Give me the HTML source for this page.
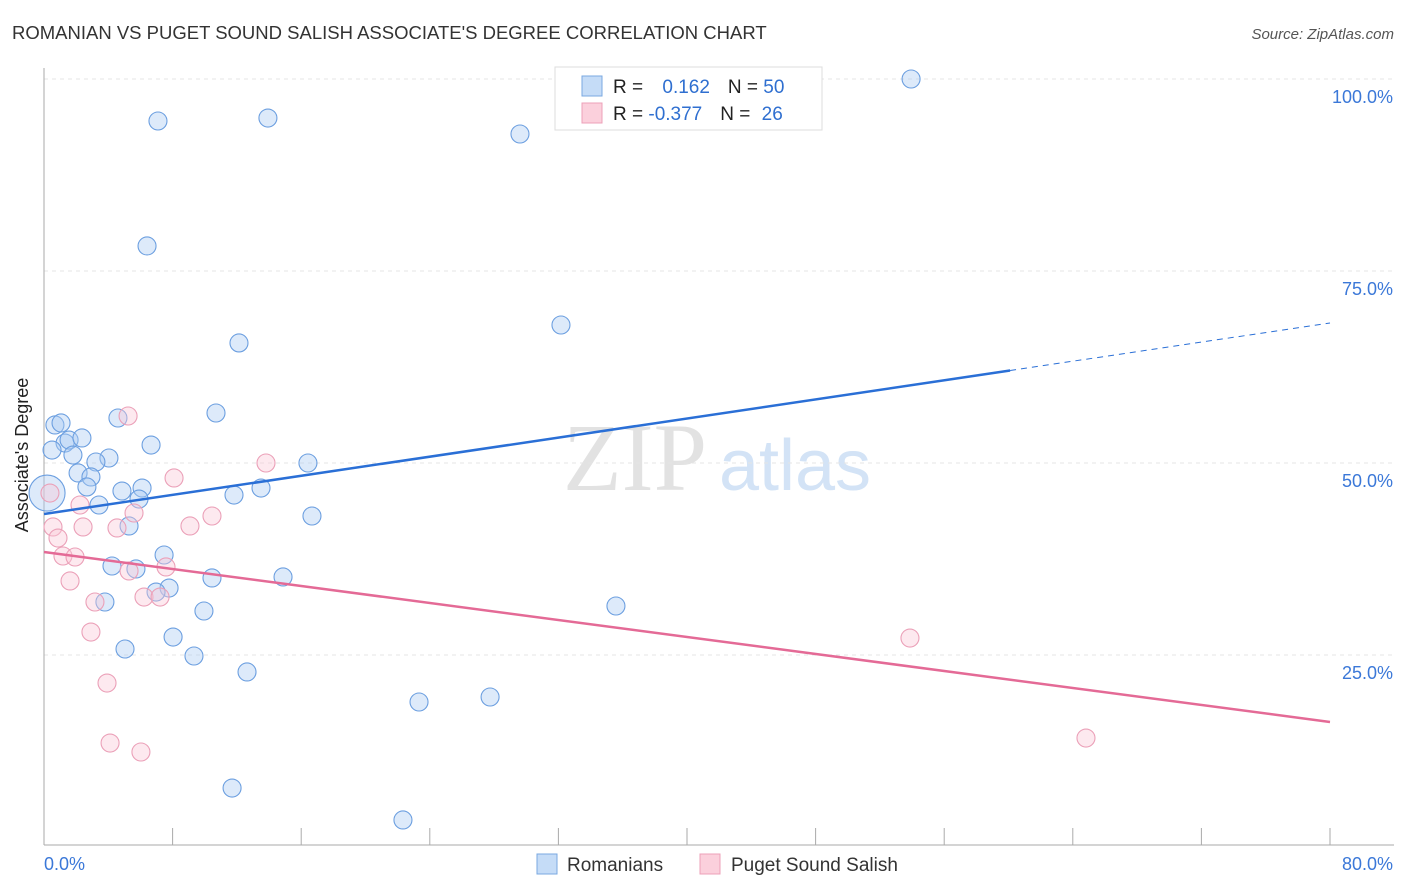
<!DOCTYPE html>
<html><head><meta charset="utf-8"><style>
body{margin:0;background:#fff;font-family:"Liberation Sans",sans-serif;}
#c{position:relative;width:1406px;height:892px;overflow:hidden}
</style></head><body>
<div id="c">
<svg width="1406" height="892" xmlns="http://www.w3.org/2000/svg" id="svg">
<text x="12" y="39" font-size="18.5" fill="#333">ROMANIAN VS PUGET SOUND SALISH ASSOCIATE'S DEGREE CORRELATION CHART</text>
<text x="1394" y="39" font-size="15" fill="#555" font-style="italic" text-anchor="end">Source: ZipAtlas.com</text>
<text x="635" y="490" font-size="96" fill="#e2e2e2" font-family="Liberation Serif,serif" text-anchor="middle">ZIP</text>
<text x="795" y="490" font-size="72" fill="#d3e3f6" text-anchor="middle">atlas</text>
<g id="grid"></g><g id="axes"></g><g id="pts"></g><g id="lines"></g>
<text x="28" y="455" font-size="18" fill="#222" text-anchor="middle" transform="rotate(-90 28 455)">Associate's Degree</text>
<g>
<rect x="555" y="67" width="267" height="63" fill="#fff" stroke="#ddd"/>
<rect x="582" y="76" width="20" height="20" fill="#c5dcf7" stroke="#7aa8e0"/>
<rect x="582" y="103" width="20" height="20" fill="#fbd0dc" stroke="#eda0b8"/>
<text x="613" y="93" font-size="19" fill="#222">R = <tspan fill="#2f6fd0" dx="14">0.162</tspan><tspan fill="#222" dx="18">N = </tspan><tspan fill="#2f6fd0">50</tspan></text>
<text x="613" y="120" font-size="19" fill="#222">R = <tspan fill="#2f6fd0">-0.377</tspan><tspan fill="#222" dx="18">N = </tspan><tspan fill="#2f6fd0" dx="6">26</tspan></text>
</g>
<g>
<rect x="537" y="854" width="20" height="20" fill="#c5dcf7" stroke="#7aa8e0"/>
<text x="567" y="871" font-size="19" fill="#333">Romanians</text>
<rect x="700" y="854" width="20" height="20" fill="#fbd0dc" stroke="#eda0b8"/>
<text x="731" y="871" font-size="19" fill="#333">Puget Sound Salish</text>
</g>
</svg></div>
<script>
const blueX=[53.94,7.09,13.93,29.61,6.41,32.16,12.13,10.70,4.60,0.68,1.06,1.31,1.56,2.36,0.50,1.80,6.66,4.04,3.23,2.12,2.92,2.67,4.85,6.10,5.91,3.42,11.82,13.50,16.42,16.67,5.29,7.47,4.23,5.72,10.45,14.87,7.78,6.97,3.79,9.95,8.03,5.04,9.33,12.63,35.58,23.33,27.75,11.70,22.33,0.19];
const blueY=[100.0,94.53,94.92,92.84,78.26,67.97,65.63,56.51,55.86,54.95,55.21,52.60,52.99,53.26,51.69,51.04,52.34,50.65,50.13,48.70,48.18,46.88,46.35,46.74,45.31,44.53,45.83,46.74,50.0,43.10,41.80,38.02,36.59,36.20,35.03,35.16,33.72,33.20,31.90,30.73,27.34,25.78,24.87,22.79,31.38,18.88,19.53,7.68,3.52,46.09];
const pinkX=[5.23,13.81,8.09,2.24,10.45,9.08,5.60,2.43,4.54,0.56,0.87,1.18,1.93,1.62,5.29,7.59,6.22,7.22,3.17,2.92,3.92,4.11,6.03,0.37,53.87,64.82];
const pinkY=[56.12,50.0,48.05,44.53,43.10,41.80,43.49,41.67,41.54,41.67,40.23,37.89,37.76,34.64,35.94,36.46,32.55,32.55,31.90,27.99,21.35,13.54,12.37,46.09,27.21,14.19];
const yTicks=[25,50,75,100];
const yTickLabels=["25.0%","50.0%","75.0%","100.0%"];
const blueTrend=[43.36,68.23];const blueSolidEnd=60.1;
const pinkTrend=[38.41,16.28];
const NS='http://www.w3.org/2000/svg';
const X=v=>44+v/80*1286, Y=v=>847-v*7.68;
function mk(p,t,a){const e=document.createElementNS(NS,t);for(const k in a)e.setAttribute(k,a[k]);document.getElementById(p).appendChild(e);return e;}
yTicks.forEach((t,i)=>{
 const l=mk('grid','line',{x1:44,x2:1394,y1:Y(t),y2:Y(t),stroke:'#e4e4e4','stroke-dasharray':'4,4'});
 
 
 const tx=mk('grid','text',{x:1393,y:Y(t)+24,'font-size':18,fill:'#3b78d8','text-anchor':'end'});
 tx.textContent=yTickLabels[i];
 
 
});
let a=mk('axes','line',{x1:44,x2:44,y1:68,y2:845,stroke:'#aaa'});


a=mk('axes','line',{x1:44,x2:1394,y1:845,y2:845,stroke:'#aaa'});


for(let i=0;i<=10;i++){const t=mk('axes','line',{x1:X(i*8),x2:X(i*8),y1:828,y2:845,stroke:'#aaa'});
 
 }
let xl=mk('axes','text',{x:44,y:870,'font-size':18,fill:'#3b78d8'});xl.textContent='0.0%';


xl=mk('axes','text',{x:1393,y:870,'font-size':18,fill:'#3b78d8','text-anchor':'end'});xl.textContent='80.0%';


blueX.forEach((x,i)=>{const big=i===blueX.length-1;
 const c=mk('pts','circle',{cx:X(x),cy:Y(blueY[i]),r:big?18:9,fill:'rgba(170,202,242,0.4)',stroke:'#6c9fe0','stroke-width':1.1});
 
 });
pinkX.forEach((x,i)=>{
 const c=mk('pts','circle',{cx:X(x),cy:Y(pinkY[i]),r:9,fill:'rgba(250,200,215,0.4)',stroke:'#eba0b8','stroke-width':1.1});
 
 });
const by=x=>blueTrend[0]+(blueTrend[1]-blueTrend[0])*x/80;
let l=mk('lines','line',{x1:X(0),y1:Y(by(0)),x2:X(blueSolidEnd),y2:Y(by(blueSolidEnd)),stroke:'#2a6fd6','stroke-width':2.5});


l=mk('lines','line',{x1:X(blueSolidEnd),y1:Y(by(blueSolidEnd)),x2:X(80),y2:Y(by(80)),stroke:'#2a6fd6','stroke-width':1,'stroke-dasharray':'6,5'});


l=mk('lines','line',{x1:X(0),y1:Y(pinkTrend[0]),x2:X(80),y2:Y(pinkTrend[1]),stroke:'#e46a96','stroke-width':2.5});


</script>
</body></html>
